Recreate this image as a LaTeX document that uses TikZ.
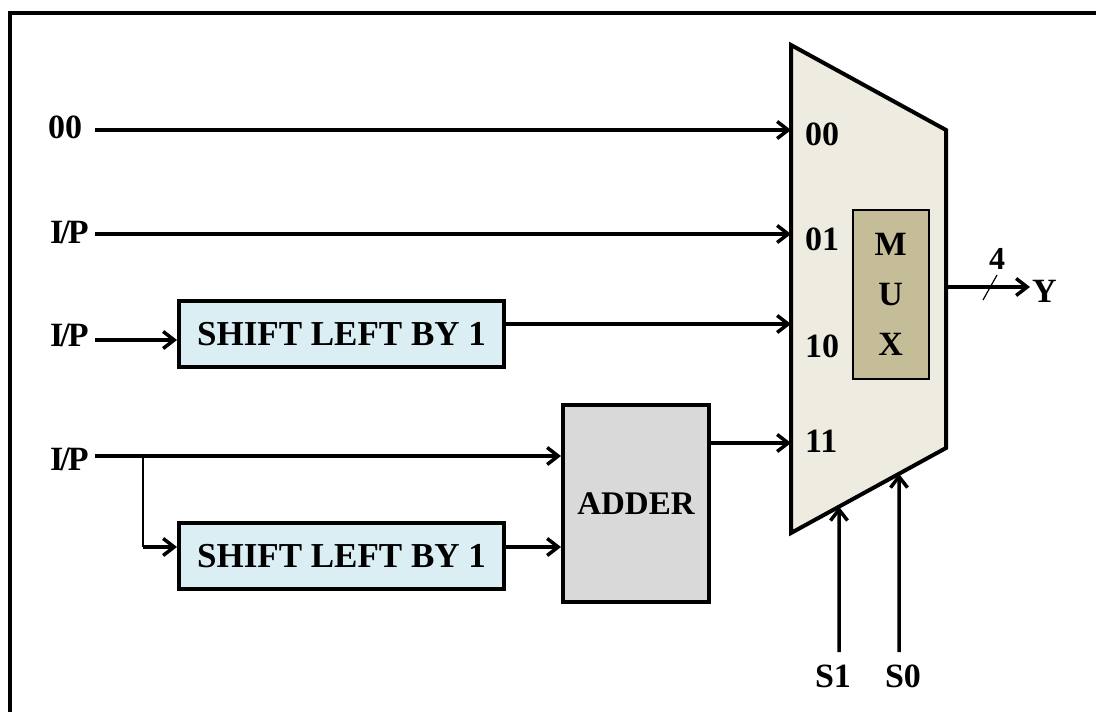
\documentclass[tikz,border=0pt]{standalone}
\usepackage{fontspec}
\setmainfont{Liberation Serif}
\usetikzlibrary{arrows.meta,calc}
\definecolor{muxfill}{HTML}{EEECE1}
\definecolor{muxin}{HTML}{C4BD97}
\definecolor{shiftfill}{HTML}{DBEEF4}
\definecolor{addfill}{HTML}{D9D9D9}
\newcommand{\iptext}{I\kern-3pt/\kern-2pt P}
\begin{document}
\begin{tikzpicture}[x=1pt,y=-1pt,
  lbl/.style={font=\fontsize{34}{40}\selectfont\bfseries, inner sep=0pt},
  wire/.style={line width=3.5pt},
  arr/.style={wire, -{Straight Barb[length=11pt,width=17pt]}},
  shiftbox/.style={draw, line width=4pt, fill=shiftfill, minimum width=325pt, minimum height=66pt, inner sep=0pt, anchor=north west, font=\fontsize{35}{40}\selectfont\bfseries},
  addbox/.style={draw, line width=4pt, fill=addfill, minimum width=146pt, minimum height=197pt, inner sep=0pt, anchor=north west, font=\fontsize{33}{40}\selectfont\bfseries}
]
\useasboundingbox (0,0) rectangle (1096,712);
% frame
\draw[line width=4pt] (10,712) -- (10,12.5) -- (1096,12.5);

% MUX body
\draw[line width=4pt, fill=muxfill, line join=miter]
  (791,45) coordinate (mtl) -- (946,130) coordinate (mtr) -- (946,448) coordinate (mbr)
  -- (791,533) coordinate (mbl) -- cycle;
\node[draw, line width=1.5pt, fill=muxin, minimum width=76pt, minimum height=169pt, inner sep=0pt, anchor=north west] (muxbox) at (852,209) {};
\node[lbl, font=\fontsize{34}{50}\selectfont\bfseries, align=center] (muxtxt) at (muxbox.center) {M\\U\\X};

% mux port labels
\node[lbl, anchor=base west] (m00) at (805,145) {00};
\node[lbl, anchor=base west] (m01) at (805,250) {01};
\node[lbl, anchor=base west] (m10) at (805,357) {10};
\node[lbl, anchor=base west] (m11) at (805,452) {11};

% port points on mux edge
\coordinate (p00) at (791,130);
\coordinate (p01) at (791,234);
\coordinate (p10) at (791,324);
\coordinate (p11) at (791,443);

% left inputs
\node[lbl, anchor=base west] (i0) at (48,138) {00};
\node[lbl, anchor=base west] (i1) at (50,243) {\iptext};
\node[lbl, anchor=base west] (i2) at (50,346) {\iptext};
\node[lbl, anchor=base west] (i3) at (50,470) {\iptext};
\coordinate (s0) at (95,130);
\coordinate (s1) at (95,234);
\coordinate (s2) at (95,340);
\coordinate (s3) at (95,456);

% blocks
\node[shiftbox] (sh1) at (177,299) {SHIFT LEFT BY 1};
\node[shiftbox] (sh2) at (177,521) {SHIFT LEFT BY 1};
\node[addbox] (add) at (561,403) {ADDER};

% connectors
\draw[arr] (s0) -- (p00);
\draw[arr] (s1) -- (p01);
\draw[arr] (s2) -- (s2 -| sh1.west);
\draw[arr] (sh1.east |- p10) -- (p10);
\draw[arr] (s3) -- (s3 -| add.west);
\coordinate (br) at (143,456);
\draw[line width=2pt] (br) -- (143,547) coordinate (brd);
\draw[arr] (brd) -- (brd -| sh2.west);
\draw[arr] (sh2.east |- brd) -- (brd -| add.west);
\draw[arr] (add.east |- p11) -- (p11);

% output
\coordinate (yo) at (946,287);
\node[lbl, anchor=base west] (ylab) at (1032,302) {Y};
\draw[arr] (yo) -- (1030,287) coordinate (ye);
\draw[line width=1.2pt] (983,300) -- (997,275);
\node[lbl, anchor=base, font=\fontsize{32}{36}\selectfont\bfseries] (four) at (997,269) {4};

% selects
\node[lbl, anchor=base] (sel1) at (833,687) {S1};
\node[lbl, anchor=base] (sel0) at (903,687) {S0};
\coordinate (e1) at ($(mbl)!0.3097!(mbr)$);
\coordinate (e0) at ($(mbl)!0.6968!(mbr)$);
\draw[arr] (839,652) coordinate (q1) -- (e1);
\draw[arr] (899,652) coordinate (q0) -- (e0);
\end{tikzpicture}
\end{document}
